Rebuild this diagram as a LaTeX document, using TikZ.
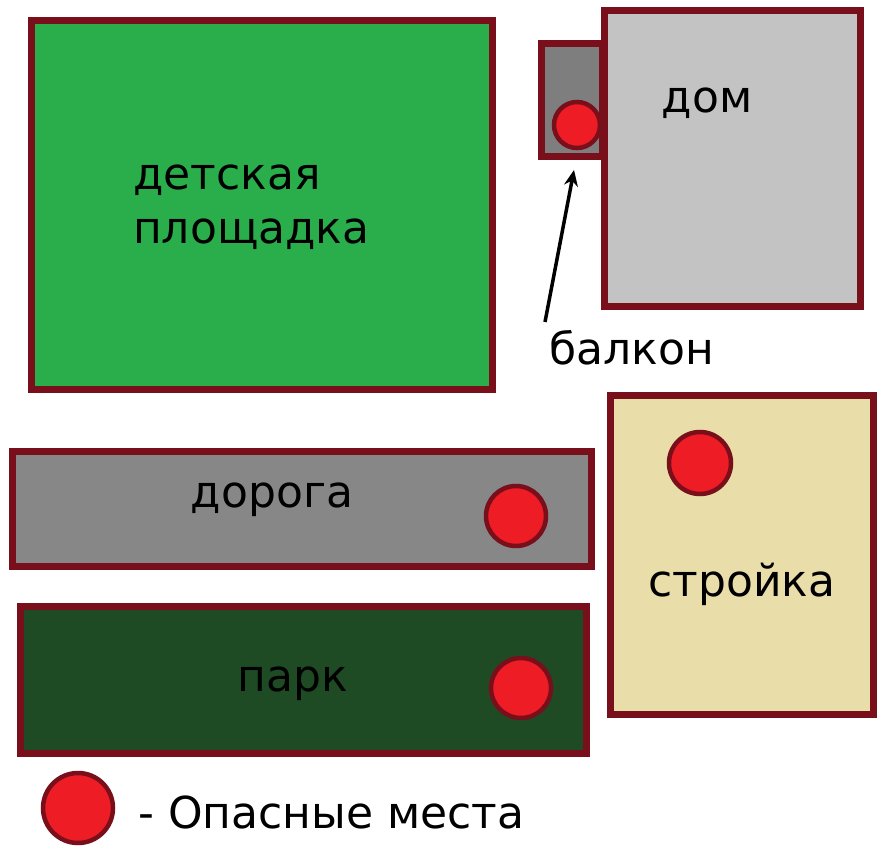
\documentclass[tikz,border=0pt]{standalone}
\usepackage{fontspec}
\usetikzlibrary{arrows.meta}
\setmainfont{DejaVu Sans}
\definecolor{brd}{HTML}{7A0F1C}
\definecolor{gplay}{HTML}{2AAE4B}
\definecolor{gpark}{HTML}{1E4A24}
\definecolor{road}{HTML}{878787}
\definecolor{house}{HTML}{C3C3C3}
\definecolor{balc}{HTML}{7E7E7E}
\definecolor{build}{HTML}{E9DDA9}
\definecolor{dot}{HTML}{EE1C25}
\tikzset{area/.style={draw=brd,line width=7pt},
 danger/.style={circle,draw=brd,line width=4.5pt,fill=dot,inner sep=0pt},
 lbl/.style={font=\fontsize{44}{54}\selectfont,inner sep=0pt}}
\begin{document}
\begin{tikzpicture}[x=1pt,y=-1pt]
\useasboundingbox (0,0) rectangle (892,848);
\fill[white] (0,0) rectangle (892,848);
\draw[area,fill=gplay] (31,21) rectangle (492,389);
\draw[area,fill=balc] (541,44) rectangle (602,157);
\draw[area,fill=house] (604,11) rectangle (860,306);
\draw[area,fill=road] (12,451) rectangle (591,566);
\draw[area,fill=gpark] (20,606) rectangle (586,753);
\draw[area,fill=build] (610,395) rectangle (873,714);
\node[danger,minimum size=46pt] (c1) at (577,125) {};
\node[danger,minimum size=60pt] (c2) at (516,516) {};
\node[danger,minimum size=60pt] (c3) at (521,688) {};
\node[danger,minimum size=62pt] (c4) at (700,463) {};
\node[danger,minimum size=70pt] (c5) at (78,808) {};
\node[lbl,align=left,anchor=west] (t1) at (133,207) {детская\\площадка};
\node[lbl] (t2) at (707,103) {дом};
\node[lbl] (t3) at (632,348) {балкон};
\node[lbl] (t4) at (272,500) {дорога};
\node[lbl] (t5) at (293,684) {парк};
\node[lbl] (t6) at (742,584) {стройка};
\node[lbl,anchor=west] (t7) at (138,812) {- Опасные места};
\coordinate (a0) at (545,322);
\coordinate (a1) at (574,170);
\draw[line width=3.5pt,-{Stealth[length=16pt,width=14pt]}] (a0) -- (a1);
\end{tikzpicture}
\end{document}
